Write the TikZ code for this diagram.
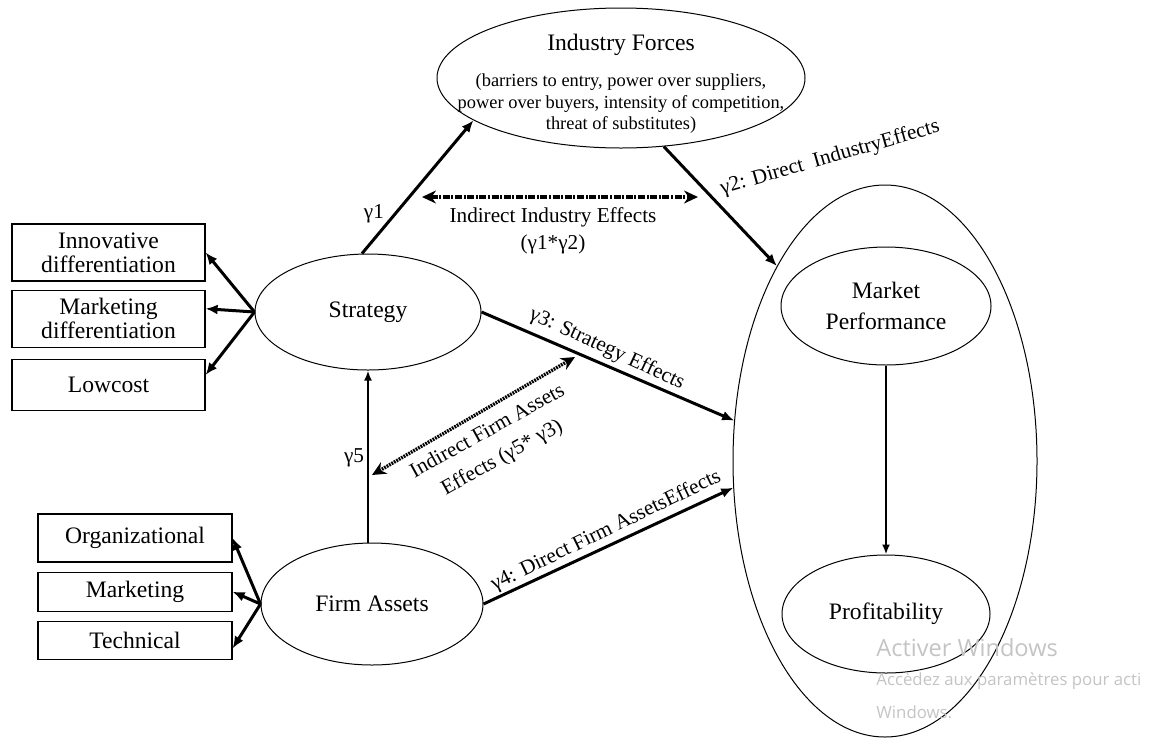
\documentclass[tikz,border=0pt]{standalone}
\usepackage{fontspec}
\setmainfont{Liberation Serif}
\newfontfamily\winfont{Open Sans}
\usetikzlibrary{shapes.geometric,arrows.meta,positioning}
\definecolor{mygray}{RGB}{196,196,196}
\newcommand*{\mainsize}{\fontsize{11.8}{12.2}\selectfont}
\newcommand*{\effsize}{\fontsize{10.6}{13.5}\selectfont}
\newcommand*{\descsize}{\fontsize{9.2}{10.75}\selectfont}
\tikzset{
   oval/.style      = {draw, ellipse, inner sep=0pt, line width=0.5pt, font=\mainsize},
   itembox/.style   = {draw, rectangle, line width=0.6pt, inner sep=0pt, align=center, font=\mainsize},
   fatarrow/.style  = {line width=1.5pt, -{Latex[length=6pt,width=5pt]}},
   slimarrow/.style = {line width=1pt, -{Latex[length=5pt,width=4pt]}},
   twoway/.style    = {{Stealth[length=7pt,width=6.5pt]}-{Stealth[length=7pt,width=6.5pt]}},
   effect/.style    = {font=\effsize, inner sep=1pt, align=center},
}

\begin{document}
\begin{tikzpicture}[x=0.5pt, y=-0.5pt]
   \useasboundingbox (0,0) rectangle (1150,740);

   % ellipses
   \node[oval, minimum width=184pt, minimum height=70pt] (ind) at (621,78) {};
   \node[font=\mainsize] (indtitle) at (621,45) {Industry Forces};
   \node[font=\descsize, align=center] (inddesc) at (621,104) {(barriers to entry, power over suppliers,\\power over buyers, intensity of competition,\\threat of substitutes)};
   \node[oval, minimum width=113pt, minimum height=58pt] (strat) at (368,312) {Strategy};
   \node[oval, minimum width=111pt, minimum height=61pt] (fa) at (372,604) {Firm Assets};
   \node[oval, minimum width=152pt, minimum height=276pt] (big) at (885,461) {};
   \node[oval, minimum width=105pt, minimum height=59pt, align=center] (mp) at (886,306) {Market\\[3.5pt]Performance};
   \node[oval, minimum width=104pt, minimum height=59pt] (prof) at (886,614) {Profitability};

   % boxes
   \node[itembox, minimum width=96.5pt, minimum height=28.5pt] (innov) at (108.5,252.5) {Innovative\\differentiation};
   \node[itembox, minimum width=96.5pt, minimum height=28.5pt, below=4pt of innov] (mdiff) {Marketing\\differentiation};
   \node[itembox, minimum width=96.5pt, minimum height=25.5pt, below=5.5pt of mdiff] (low) {Lowcost};
   \node[itembox, minimum width=97pt, minimum height=24pt] (org) at (135,538) {Organizational};
   \node[itembox, minimum width=97pt, minimum height=19.5pt, below=4.5pt of org] (mkt) {Marketing};
   \node[itembox, minimum width=97pt, minimum height=19pt, below=4.5pt of mkt] (tech) {Technical};

   \draw[fatarrow] (strat.west) -- (innov.east);
   \draw[fatarrow] (strat.west) -- ([yshift=5pt]mdiff.east);
   \draw[fatarrow] (strat.west) -- ([yshift=5pt]low.east);
   \draw[fatarrow] (fa.west) -- (org.east);
   \draw[fatarrow] (fa.west) -- (mkt.east);
   \draw[fatarrow] (fa.west) -- ([yshift=-4pt]tech.east);

   % paths
   \draw[fatarrow] ([xshift=-3pt]strat.north) -- (ind.196)
      node[effect, pos=0.3, left=4pt] (g1) {γ1};
   \draw[fatarrow] (ind.-58) -- (big.119);
   \draw[fatarrow] (strat.east) -- (big.165);
   \draw[fatarrow] (fa.east) -- (big.190);
   \draw[slimarrow] (fa.north -| strat.south) -- (strat.south);
   \draw[slimarrow] (mp.south) -- (prof.north);

   \node[effect, rotate=16] (g2) at (830,158) {γ2: Direct~~IndustryEffects};
   \node[effect, rotate=-25] (g3) at (607,349) {γ3: Strategy Effects};
   \node[effect, rotate=25.8] (g4) at (606,531) {γ4: Direct Firm AssetsEffects};
   \node[effect] (g5) at (354,458) {γ5};

   % indirect effects
   \coordinate (ii1) at (422,197);
   \coordinate (ii2) at (698,197);
   \draw[twoway, line width=1.9pt, dash pattern=on 3.5pt off 0.8pt on 1pt off 0.8pt] (ii1) -- (ii2);
   \node[effect] (iilab) at (553,231) {Indirect Industry Effects\\(γ1*γ2)};

   \coordinate (if1) at (372,475);
   \coordinate (if2) at (575,357);
   \draw[twoway, line width=1.7pt, dash pattern=on 0.9pt off 0.5pt] (if1) -- (if2);
   \node[effect, rotate=29, font=\fontsize{10.6}{15}\selectfont] (iflab) at (495,445) {Indirect Firm Assets\\Effects (γ5* γ3)};

   % watermark
   \node[anchor=west, inner sep=0pt, text=mygray, font=\winfont\fontsize{11.8}{12}\selectfont] (win1) at (876,648) {Activer Windows};
   \node[anchor=west, inner sep=0pt, text=mygray, font=\winfont\fontsize{8.4}{9}\selectfont] (win2) at (876,681) {Accèdez aux paramètres pour acti};
   \node[anchor=west, inner sep=0pt, text=mygray, font=\winfont\fontsize{8.4}{9}\selectfont] (win3) at (876,712) {Windows.};
\end{tikzpicture}
\end{document}
